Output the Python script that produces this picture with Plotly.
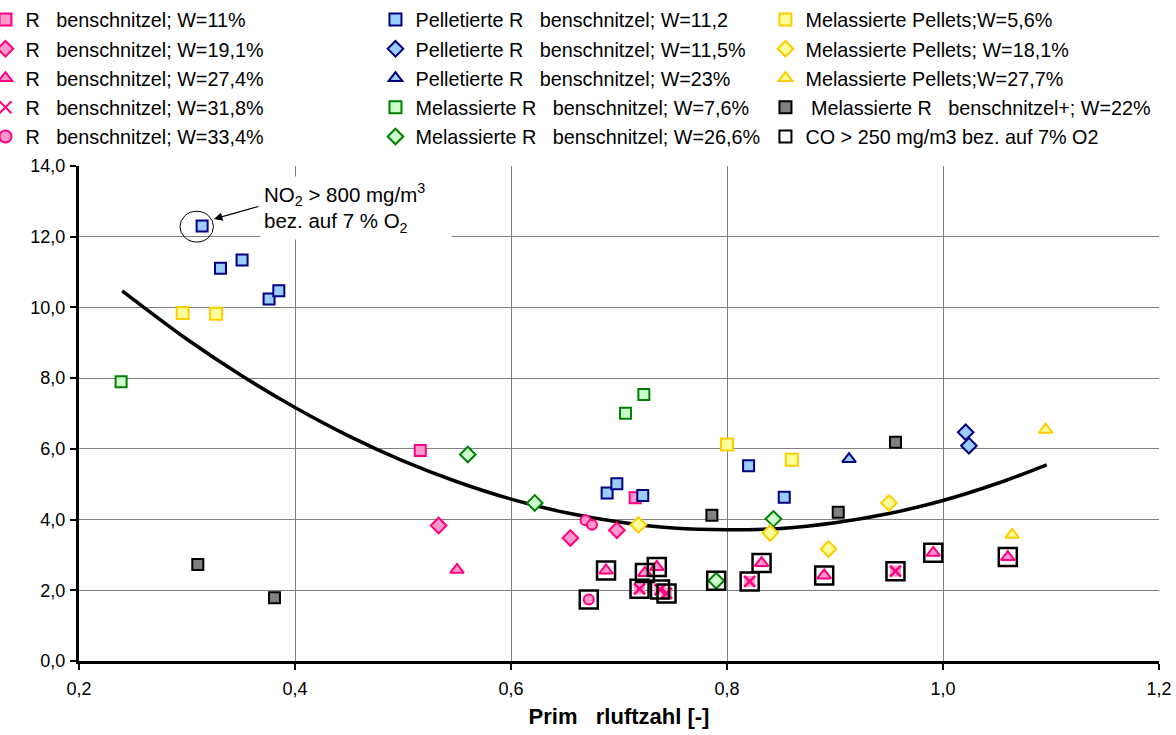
import plotly.graph_objects as go

# Primärluftzahl (x) vs. value (y) for each fuel / moisture content
pink_sq_x = [0.516, 0.715]
pink_sq_y = [5.95, 4.62]
pink_di_x = [0.533, 0.655, 0.698]
pink_di_y = [3.83, 3.48, 3.70]
pink_tr_x = [0.550, 0.688, 0.724, 0.735, 0.832, 0.890, 0.991, 1.060]
pink_tr_y = [2.58, 2.56, 2.49, 2.66, 2.77, 2.42, 3.06, 2.94]
pink_x_x = [0.719, 0.738, 0.744, 0.821, 0.956]
pink_x_y = [2.04, 2.02, 1.91, 2.25, 2.54]
pink_ci_x = [0.669, 0.675, 0.672]
pink_ci_y = [3.98, 3.85, 1.74]

blue_sq_x = [0.314, 0.331, 0.351, 0.376, 0.385, 0.689, 0.698, 0.722, 0.820, 0.853]
blue_sq_y = [12.30, 11.11, 11.34, 10.24, 10.47, 4.75, 5.01, 4.68, 5.52, 4.63]
blue_di_x = [1.021, 1.024]
blue_di_y = [6.47, 6.09]
blue_tr_x = [0.913]
blue_tr_y = [5.71]

green_sq_x = [0.239, 0.706, 0.723]
green_sq_y = [7.90, 7.01, 7.54]
green_di_x = [0.560, 0.622, 0.843, 0.790]
green_di_y = [5.84, 4.47, 4.02, 2.27]

yel_sq_x = [0.296, 0.327, 0.800, 0.860]
yel_sq_y = [9.84, 9.82, 6.12, 5.69]
yel_di_x = [0.718, 0.840, 0.894, 0.950]
yel_di_y = [3.85, 3.62, 3.17, 4.47]
yel_tr_x = [1.095, 1.064]
yel_tr_y = [6.54, 3.57]

grey_sq_x = [0.310, 0.381, 0.786, 0.903, 0.956]
grey_sq_y = [2.73, 1.79, 4.12, 4.21, 6.19]

co_x = [0.672, 0.688, 0.724, 0.735, 0.832, 0.890, 0.991, 1.060,
        0.719, 0.738, 0.744, 0.821, 0.956, 0.790]
co_y = [1.74, 2.56, 2.49, 2.66, 2.77, 2.42, 3.06, 2.94,
        2.04, 2.02, 1.91, 2.25, 2.54, 2.27]

# trend curve through the whole data set
trend_x = [0.24, 0.30, 0.35, 0.40, 0.45, 0.50, 0.55, 0.60, 0.65, 0.70,
           0.75, 0.80, 0.85, 0.90, 0.95, 1.00, 1.05, 1.096]
trend_y = [10.47, 9.10, 8.08, 7.17, 6.36, 5.66, 5.07, 4.58, 4.20, 3.93,
           3.76, 3.71, 3.75, 3.91, 4.17, 4.54, 5.02, 5.55]

x_ticks = [0.2, 0.4, 0.6, 0.8, 1.0, 1.2]
y_ticks = [0, 2, 4, 6, 8, 10, 12, 14]

FONT = "Arial, Liberation Sans, sans-serif"
SP = "\u00a0\u00a0\u00a0"

PINK_F, PINK_L = "#FF99CC", "#FF0080"
BLUE_F, BLUE_L = "#99CCFF", "#000080"
GREEN_F, GREEN_L = "#CCFFCC", "#008000"
YEL_F, YEL_L = "#FFFF99", "#FFCC00"

fig = go.Figure()

# curve first so markers sit on top
fig.add_trace(go.Scatter(x=trend_x, y=trend_y, mode="lines",
                         line=dict(color="black", width=3.5, shape="spline"),
                         showlegend=False, hoverinfo="skip"))

series = [
    # name, x, y, symbol, fill, line, size, legend
    ("R" + SP + "benschnitzel; W=11%", pink_sq_x, pink_sq_y, "square", PINK_F, PINK_L, 11, "legend"),
    ("R" + SP + "benschnitzel; W=19,1%", pink_di_x, pink_di_y, "diamond", PINK_F, PINK_L, 12, "legend"),
    ("R" + SP + "benschnitzel; W=27,4%", pink_tr_x, pink_tr_y, "triangle-up", PINK_F, PINK_L, 12, "legend"),
    ("R" + SP + "benschnitzel; W=31,8%", pink_x_x, pink_x_y, "x-thin", PINK_F, PINK_L, 11, "legend"),
    ("R" + SP + "benschnitzel; W=33,4%", pink_ci_x, pink_ci_y, "circle", PINK_F, PINK_L, 10, "legend"),
    ("Pelletierte R" + SP + "benschnitzel; W=11,2", blue_sq_x, blue_sq_y, "square", BLUE_F, BLUE_L, 11, "legend2"),
    ("Pelletierte R" + SP + "benschnitzel; W=11,5%", blue_di_x, blue_di_y, "diamond", BLUE_F, BLUE_L, 12, "legend2"),
    ("Pelletierte R" + SP + "benschnitzel; W=23%", blue_tr_x, blue_tr_y, "triangle-up", BLUE_F, BLUE_L, 12, "legend2"),
    ("Melassierte R" + SP + "benschnitzel; W=7,6%", green_sq_x, green_sq_y, "square", GREEN_F, GREEN_L, 11, "legend2"),
    ("Melassierte R" + SP + "benschnitzel; W=26,6%", green_di_x, green_di_y, "diamond", GREEN_F, GREEN_L, 12, "legend2"),
    ("Melassierte Pellets;W=5,6%", yel_sq_x, yel_sq_y, "square", YEL_F, YEL_L, 12, "legend3"),
    ("Melassierte Pellets; W=18,1%", yel_di_x, yel_di_y, "diamond", YEL_F, YEL_L, 12, "legend3"),
    ("Melassierte Pellets;W=27,7%", yel_tr_x, yel_tr_y, "triangle-up", YEL_F, YEL_L, 12, "legend3"),
    ("\u00a0Melassierte R" + SP + "benschnitzel+; W=22%", grey_sq_x, grey_sq_y, "square", "#808080", "#000000", 11, "legend3"),
]

for i, (name, xs, ys, sym, fc, lc, sz, lg) in enumerate(series):
    if sym == "x-thin":
        # filled background behind the cross
        fig.add_trace(go.Scatter(x=xs, y=ys, mode="markers", showlegend=False,
                                 legendgroup=f"g{i}", hoverinfo="skip",
                                 marker=dict(symbol="square", size=sz, color=fc,
                                             line=dict(width=0))))
        marker = dict(symbol="x-thin", size=sz, color=lc, line=dict(color=lc, width=2.5))
    else:
        marker = dict(symbol=sym, size=sz, color=fc, line=dict(color=lc, width=2))
    fig.add_trace(go.Scatter(x=xs, y=ys, mode="markers", name=name,
                             legend=lg, legendgroup=f"g{i}", marker=marker))

fig.add_trace(go.Scatter(x=co_x, y=co_y, mode="markers",
                         name="CO > 250 mg/m3 bez. auf 7% O2",
                         legend="legend3", legendgroup="gco",
                         marker=dict(symbol="square-open", size=18, color="black",
                                     line=dict(color="black", width=2.5))))

# highlighted point and note
fig.add_shape(type="circle", xref="x", yref="y",
              x0=0.2935, x1=0.3245, y0=11.85, y1=12.72,
              line=dict(color="black", width=1))
fig.add_annotation(x=0.325, y=12.50, xref="x", yref="y", text="",
                   showarrow=True, arrowhead=2, arrowsize=1.4, arrowwidth=1.2,
                   arrowcolor="black", ax=46, ay=-13, axref="pixel", ayref="pixel",
                   standoff=0, startstandoff=0)
fig.add_annotation(x=0.2 + (260 - 79) / 1080, y=(661.5 - 176) / 35.4,
                   xref="x", yref="y", xanchor="left", yanchor="top",
                   text="NO<sub>2</sub> > 800 mg/m<sup>3</sup><br>bez. auf 7 % O<sub>2</sub>",
                   showarrow=False, align="left", bgcolor="white",
                   width=184, borderpad=3,
                   font=dict(family=FONT, size=20.5, color="black"))

leg_common = dict(orientation="v", yanchor="top", xanchor="left",
                  bgcolor="rgba(0,0,0,0)", borderwidth=0, tracegroupgap=0.5,
                  itemsizing="constant",
                  font=dict(family=FONT, size=19.8, color="black"))
fig.update_layout(
    width=1176, height=735,
    margin=dict(l=79, r=17, t=166, b=74, autoexpand=False),
    paper_bgcolor="white", plot_bgcolor="white",
    separators=", ",
    font=dict(family=FONT, color="black"),
    legend=dict(x=-0.0866, y=1.335, **leg_common),
    legend2=dict(x=0.2745, y=1.335, **leg_common),
    legend3=dict(x=0.6356, y=1.335, **leg_common),
    xaxis=dict(range=[0.2, 1.2], tickvals=x_ticks, tickformat=".1f",
               showgrid=True, gridcolor="#808080", gridwidth=1,
               showline=True, linecolor="black", linewidth=3,
               ticks="outside", ticklen=6, tickwidth=2, tickcolor="black",
               zeroline=False, ticklabelstandoff=3,
               tickfont=dict(family=FONT, size=18, color="black"),
               title=dict(text="<b>Prim" + SP + "rluftzahl [-]</b>",
                          font=dict(family=FONT, size=22, color="black"),
                          standoff=12)),
    yaxis=dict(range=[0, 14], tickvals=y_ticks, tickformat=".1f",
               showgrid=True, gridcolor="#808080", gridwidth=1,
               showline=True, linecolor="black", linewidth=3,
               ticks="outside", ticklen=6, tickwidth=2, tickcolor="black",
               zeroline=False, ticklabelstandoff=1,
               tickfont=dict(family=FONT, size=18, color="black")),
)

fig.write_html("out.html")
